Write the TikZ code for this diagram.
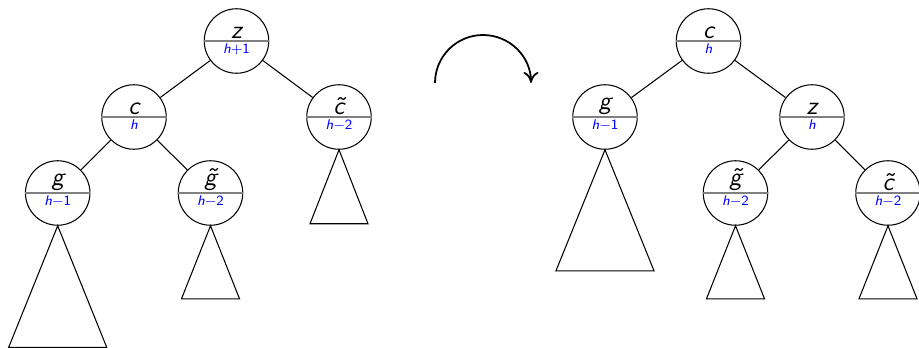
\documentclass[tikz,border=0pt]{standalone}
\usetikzlibrary{arrows.meta,shapes.multipart}

\newcommand{\hval}[1]{{\footnotesize\color{blue}h\upshape#1}}

\begin{document}
\begin{tikzpicture}[
  tnode/.style={circle split,draw,line width=0.6pt,minimum size=1.29cm,inner sep=1.2pt,font=\sffamily\itshape\Large},
  splitline/.style={draw=gray,line width=1pt},
  edge/.style={line width=0.6pt},
  subtree/.style={line width=0.6pt},
  rot/.style={-{To[length=2.2mm,width=3mm]},line width=1pt}
]
\useasboundingbox (0,0) rectangle (18.38,-6.96);

% left tree
\node[tnode] (lz)  at (4.73,-0.82)  {z \nodepart{lower} \hval{+1}};
\node[tnode] (lc)  at (2.68,-2.34)  {c \nodepart{lower} \hval{}};
\node[tnode] (lct) at (6.78,-2.34)  {\~{c} \nodepart{lower} \hval{$-$2}};
\node[tnode] (lg)  at (1.154,-3.86) {g \nodepart{lower} \hval{$-$1}};
\node[tnode] (lgt) at (4.21,-3.86)  {\~{g} \nodepart{lower} \hval{$-$2}};

\draw[edge] (lz) -- (lc);
\draw[edge] (lz) -- (lct);
\draw[edge] (lc) -- (lg);
\draw[edge] (lc) -- (lgt);

\draw[subtree] (lg.south)  -- ++(-0.98,-2.43) -- ++(1.96,0) -- cycle;
\draw[subtree] (lgt.south) -- ++(-0.58,-1.46) -- ++(1.16,0) -- cycle;
\draw[subtree] (lct.south) -- ++(-0.58,-1.48) -- ++(1.16,0) -- cycle;

% rotation arrow
\coordinate (rotstart) at (8.70,-1.66);
\draw[rot] (rotstart) arc[start angle=180,end angle=0,radius=0.96cm];

% right tree
\node[tnode] (rc)  at (14.17,-0.82) {c \nodepart{lower} \hval{}};
\node[tnode] (rg)  at (12.10,-2.34) {g \nodepart{lower} \hval{$-$1}};
\node[tnode] (rz)  at (16.24,-2.34) {z \nodepart{lower} \hval{}};
\node[tnode] (rgt) at (14.71,-3.86) {\~{g} \nodepart{lower} \hval{$-$2}};
\node[tnode] (rct) at (17.76,-3.86) {\~{c} \nodepart{lower} \hval{$-$2}};

\draw[edge] (rc) -- (rg);
\draw[edge] (rc) -- (rz);
\draw[edge] (rz) -- (rgt);
\draw[edge] (rz) -- (rct);

\draw[subtree] (rg.south)  -- ++(-0.98,-2.42) -- ++(1.96,0) -- cycle;
\draw[subtree] (rgt.south) -- ++(-0.58,-1.46) -- ++(1.16,0) -- cycle;
\draw[subtree] (rct.south) -- ++(-0.58,-1.46) -- ++(1.16,0) -- cycle;

% gray split lines
\foreach \n in {lz,lc,lct,lg,lgt,rc,rg,rz,rgt,rct}
  \draw[splitline] (\n.west) -- (\n.east);

\end{tikzpicture}
\end{document}
